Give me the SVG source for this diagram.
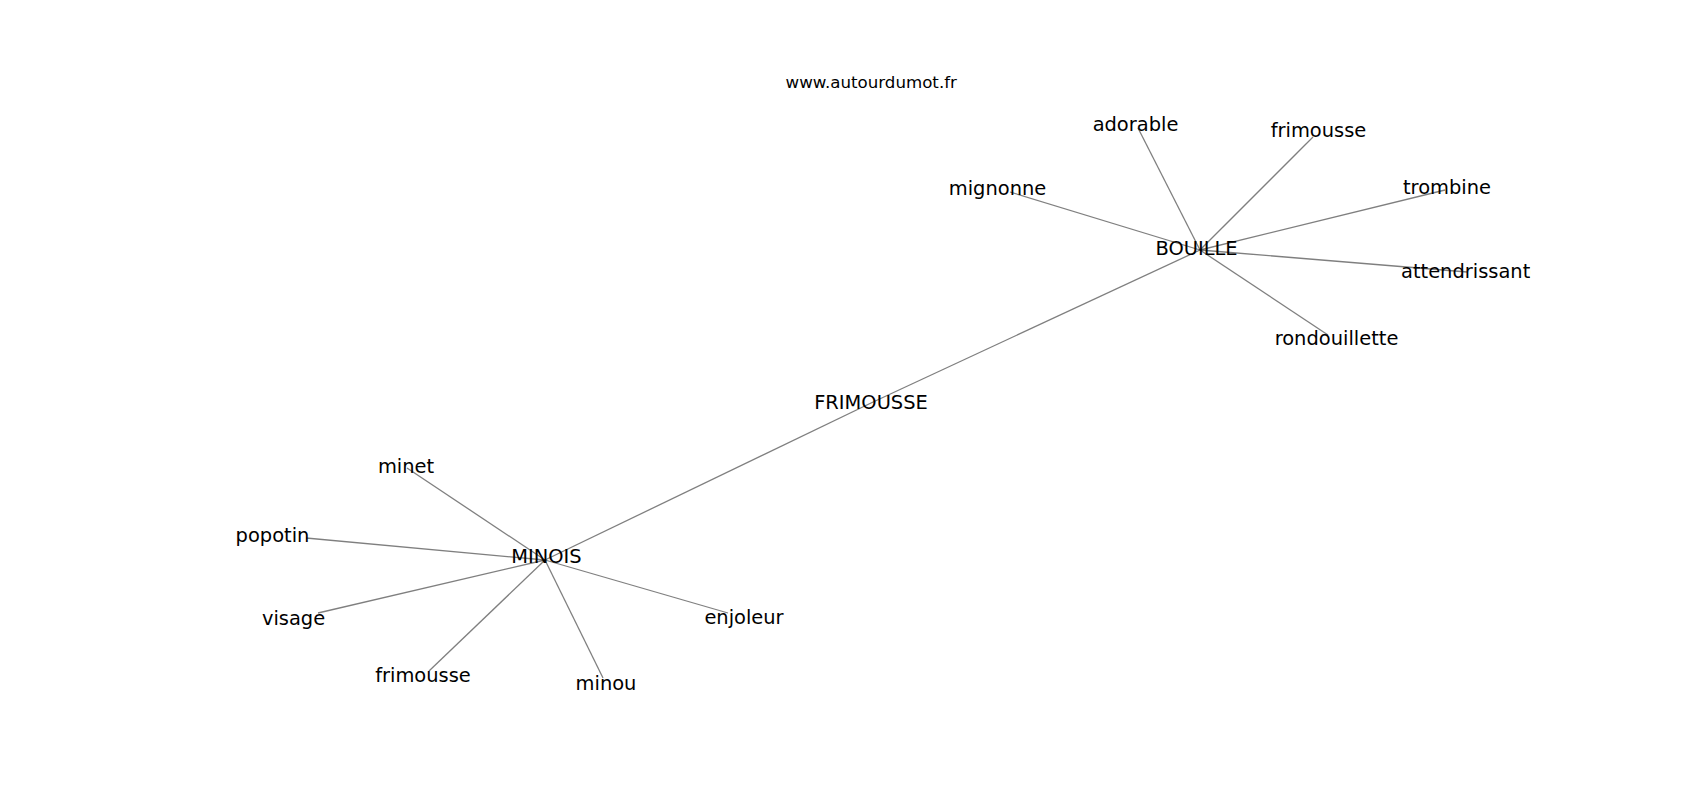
<svg xmlns="http://www.w3.org/2000/svg" width="1700" height="800" viewBox="0 0 1700 800">
  <style>
    .lbl { font-family: "DejaVu Sans", "Liberation Sans", sans-serif; font-size: 19.44px; fill: #000; text-anchor: middle; }
    .title { font-family: "DejaVu Sans", "Liberation Sans", sans-serif; font-size: 16.67px; fill: #000; text-anchor: middle; }
    .edge { stroke: #000; stroke-opacity: 0.5; stroke-width: 1.3; fill: none; }
  </style>
  <defs>
    <clipPath id="axes">
      <rect x="212.5" y="96" width="1318" height="616"/>
    </clipPath>
  </defs>
  <rect width="1700" height="800" fill="#fff"/>
  <text class="title" x="871.25" y="87.7">www.autourdumot.fr</text>
  <g id="edges" clip-path="url(#axes)">
    <line class="edge" x1="871" y1="403" x2="1200" y2="250"/>
    <line class="edge" x1="871" y1="403" x2="545" y2="560"/>
    <line class="edge" x1="1200" y1="250" x2="1138" y2="128"/>
    <line class="edge" x1="1200" y1="250" x2="1313" y2="137"/>
    <line class="edge" x1="1200" y1="250" x2="1445" y2="190"/>
    <line class="edge" x1="1200" y1="250" x2="1467" y2="272"/>
    <line class="edge" x1="1200" y1="250" x2="1328" y2="335"/>
    <line class="edge" x1="1200" y1="250" x2="1010" y2="192"/>
    <line class="edge" x1="545" y1="560" x2="407" y2="468"/>
    <line class="edge" x1="545" y1="560" x2="306" y2="538"/>
    <line class="edge" x1="545" y1="560" x2="318" y2="613"/>
    <line class="edge" x1="545" y1="560" x2="429" y2="671"/>
    <line class="edge" x1="545" y1="560" x2="603" y2="678"/>
    <line class="edge" x1="545" y1="560" x2="728" y2="613"/>
  </g>
  <g clip-path="url(#axes)">
    <g id="node-frimousse-center"><text class="lbl" x="871" y="409.3">FRIMOUSSE</text></g>
    <g id="node-bouille"><text class="lbl" x="1196.5" y="254.5">BOUILLE</text></g>
    <g id="node-minois"><text class="lbl" x="546.4" y="563.3">MINOIS</text></g>
    <g id="node-adorable"><text class="lbl" x="1135.5" y="130.7">adorable</text></g>
    <g id="node-frimousse-b"><text class="lbl" x="1318.5" y="137.3">frimousse</text></g>
    <g id="node-trombine"><text class="lbl" x="1447" y="194">trombine</text></g>
    <g id="node-attendrissante"><text class="lbl" x="1401" y="278.3" style="text-anchor:start">attendrissante</text></g>
    <g id="node-rondouillette"><text class="lbl" x="1336.5" y="345">rondouillette</text></g>
    <g id="node-mignonne"><text class="lbl" x="997.5" y="195">mignonne</text></g>
    <g id="node-minet"><text class="lbl" x="406" y="473">minet</text></g>
    <g id="node-popotin"><text class="lbl" x="272.5" y="541.7">popotin</text></g>
    <g id="node-visage"><text class="lbl" x="293.5" y="625">visage</text></g>
    <g id="node-frimousse-m"><text class="lbl" x="423" y="682">frimousse</text></g>
    <g id="node-minou"><text class="lbl" x="606" y="690">minou</text></g>
    <g id="node-enjoleur"><text class="lbl" x="744" y="624">enjoleur</text></g>
  </g>
</svg>
